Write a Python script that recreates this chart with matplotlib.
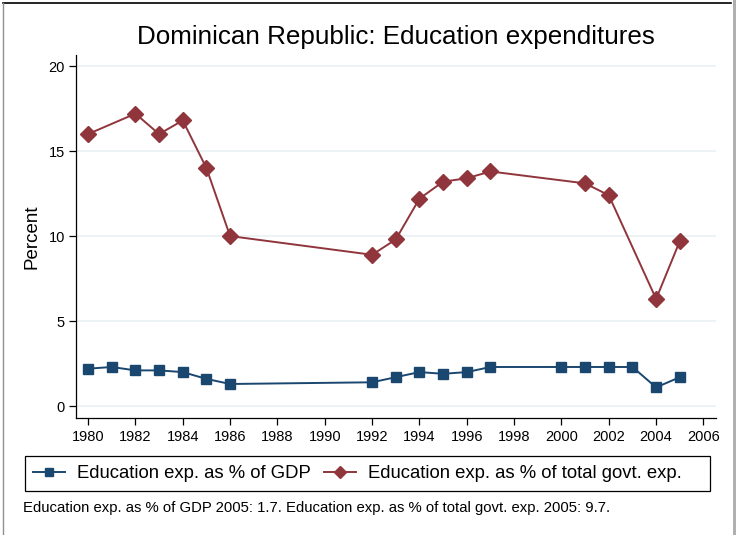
import matplotlib
matplotlib.use("Agg")
import matplotlib.pyplot as plt
from matplotlib.patches import Rectangle
from matplotlib.lines import Line2D

plt.rcParams['font.family'] = ['Liberation Sans', 'DejaVu Sans']

years_gdp = [1980, 1981, 1982, 1983, 1984, 1985, 1986, 1992, 1993, 1994, 1995,
             1996, 1997, 2000, 2001, 2002, 2003, 2004, 2005]
gdp = [2.2, 2.3, 2.1, 2.1, 2.0, 1.6, 1.3, 1.4, 1.7, 2.0, 1.9,
       2.0, 2.3, 2.3, 2.3, 2.3, 2.3, 1.1, 1.7]

years_gov = [1980, 1982, 1983, 1984, 1985, 1986, 1992, 1993, 1994, 1995,
             1996, 1997, 2001, 2002, 2004, 2005]
gov = [16.0, 17.2, 16.0, 16.8, 14.0, 10.0, 8.9, 9.8, 12.2, 13.2,
       13.4, 13.8, 13.1, 12.4, 6.3, 9.7]

xticks = list(range(1980, 2007, 2))
yticks = [0, 5, 10, 15, 20]

title = "Dominican Republic: Education expenditures"
label_gdp = "Education exp. as % of GDP"
label_gov = "Education exp. as % of total govt. exp."
note = "Education exp. as % of GDP 2005: 1.7. Education exp. as % of total govt. exp. 2005: 9.7."

navy = "#1a476f"
maroon = "#90353b"

W, H = 736, 535
fig = plt.figure(figsize=(W / 100, H / 100), dpi=100)
fig.patch.set_facecolor("white")

# outer frame
fig.add_artist(Line2D([2.5 / W, 731 / W], [1 - 3 / H, 1 - 3 / H], transform=fig.transFigure,
                      color="black", linewidth=1.2))
fig.add_artist(Line2D([2.5 / W, 2.5 / W], [0, 1 - 3 / H], transform=fig.transFigure,
                      color="#909090", linewidth=1.0))
fig.add_artist(Rectangle((733 / W, 0), 3 / W, 1, transform=fig.transFigure,
                         facecolor="#b0b0b0", edgecolor="none"))

ax = fig.add_axes([76 / W, 1 - 418 / H, (716 - 76) / W, (418 - 55) / H])
ax.set_xlim(1979.49, 2006.53)
ax.set_ylim(-0.7, 20.65)

for y in yticks:
    ax.axhline(y, color="#eaf2f3", linewidth=1.3, zorder=0)

ax.plot(years_gdp, gdp, color=navy, marker="s", markersize=7, linewidth=1.4,
        label=label_gdp, zorder=3)
ax.plot(years_gov, gov, color=maroon, marker="D", markersize=8, linewidth=1.4,
        label=label_gov, zorder=3)

ax.set_xticks(xticks)
ax.set_yticks(yticks)
ax.tick_params(axis="both", direction="out", length=5, width=0.9, labelsize=10.5, colors="black")
ax.tick_params(axis="y", pad=3)
for s in ["top", "right"]:
    ax.spines[s].set_visible(False)
for s in ["left", "bottom"]:
    ax.spines[s].set_linewidth(0.9)
ax.set_ylabel("Percent", fontsize=13.5)
ax.yaxis.set_label_coords((41 - 76) / (716 - 76), 0.5)

fig.text(396 / W, 1 - 37 / H, title, ha="center", va="center", fontsize=18.7)

# legend box drawn manually, legend entries placed inside
fig.add_artist(Rectangle((25 / W, 1 - 491 / H), (710 - 25) / W, (491 - 456) / H,
                         transform=fig.transFigure, fill=False, edgecolor="black",
                         linewidth=0.9))
leg = fig.legend(loc="center left", bbox_to_anchor=(33 / W, 1 - 473.5 / H), ncol=2,
                 fontsize=13.3, frameon=False, borderpad=0, borderaxespad=0,
                 handlelength=1.75, columnspacing=0.7, handletextpad=0.65,
                 markerscale=0.8)

fig.text(23 / W, 1 - 508 / H, note, ha="left", va="center", fontsize=10.7)

fig.savefig("out.png", dpi=100, facecolor="white")
